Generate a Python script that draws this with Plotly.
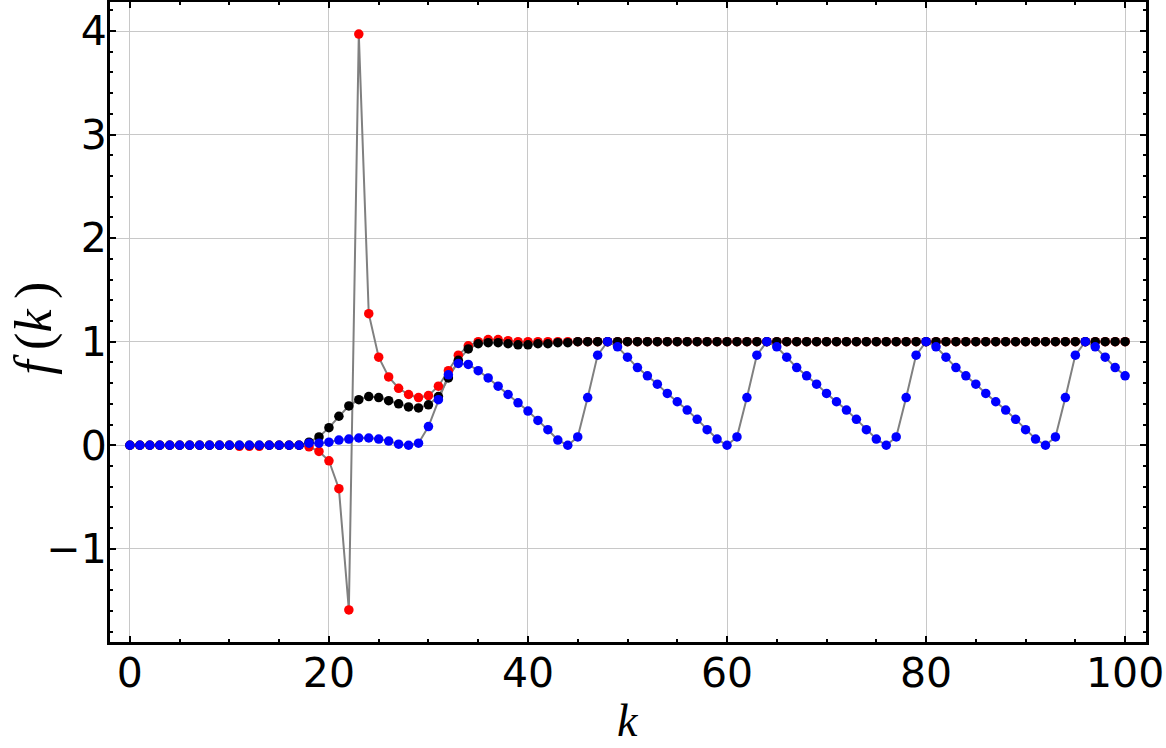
import plotly.graph_objects as go

k = list(range(0, 101))

red = ([0.0] * 11 + [-0.01, -0.01, -0.01] + [0.0] * 4 +
       [-0.015, -0.06, -0.15, -0.42, -1.59, 3.97, 1.27, 0.85, 0.66, 0.55,
        0.49, 0.46, 0.48, 0.57, 0.72, 0.87, 0.96, 1.0, 1.02, 1.02,
        1.01, 1.0] + [1.0] * 61)

black = ([0.0] * 18 +
         [0.03, 0.08, 0.17, 0.28, 0.38, 0.44, 0.47, 0.46, 0.43, 0.40,
          0.37, 0.36, 0.39, 0.47, 0.65, 0.82, 0.93, 0.98, 0.99, 0.99,
          0.98, 0.97, 0.97, 0.98, 0.98, 0.99, 0.99] + [1.0] * 56)

blue = ([0.0] * 18 +
        [0.02, 0.02, 0.03, 0.05, 0.06, 0.07, 0.07, 0.06, 0.04, 0.01,
         0.0, 0.02, 0.18, 0.44, 0.68, 0.79, 0.78, 0.72, 0.65, 0.57,
         0.49, 0.41, 0.33, 0.24, 0.15, 0.05,
         0.0, 0.08, 0.46, 0.87, 1.0, 0.95, 0.85, 0.75, 0.67, 0.59,
         0.50, 0.42, 0.34, 0.25, 0.15, 0.06,
         0.0, 0.08, 0.46, 0.87, 1.0, 0.95, 0.85, 0.75, 0.67, 0.59,
         0.50, 0.42, 0.34, 0.25, 0.15, 0.06,
         0.0, 0.08, 0.46, 0.87, 1.0, 0.95, 0.85, 0.75, 0.67, 0.59,
         0.50, 0.42, 0.34, 0.25, 0.15, 0.06,
         0.0, 0.08, 0.46, 0.87, 1.0, 0.95, 0.85, 0.75, 0.67])

series = [("red", red, "#ff0000"), ("black", black, "#000000"), ("blue", blue, "#0000ff")]

xticks = [0, 20, 40, 60, 80, 100]
yticks = [-1, 0, 1, 2, 3, 4]
yticklabels = ["\u22121", "0", "1", "2", "3", "4"]
x_title = "<i>k</i>"
y_title = "<i>f</i>\u2009(<i>k</i>\u2009)"

fig = go.Figure()
for name, vals, col in series:
    fig.add_trace(go.Scatter(x=k, y=vals, mode="lines",
                             line=dict(color="#808080", width=2),
                             showlegend=False, hoverinfo="skip"))
for name, vals, col in series:
    fig.add_trace(go.Scatter(x=k, y=vals, mode="markers", name=name,
                             marker=dict(color=col, size=9.5),
                             showlegend=False))

tickfont = dict(family="DejaVu Sans", size=41, color="black")
xtitlefont = dict(family="Liberation Serif", size=46, color="black")
ytitlefont = dict(family="Liberation Serif", size=52, color="black")

fig.update_layout(
    width=1166, height=748,
    margin=dict(l=110, r=20, t=2, b=106),
    paper_bgcolor="white", plot_bgcolor="white",
    xaxis=dict(range=[-2.0, 102.1], tickvals=xticks, ticktext=[str(v) for v in xticks],
               tickfont=tickfont, showgrid=True, gridcolor="#c8c8c8", gridwidth=1,
               zeroline=False, showline=True, linecolor="black", linewidth=3,
               mirror="allticks", ticks="inside", ticklen=6, tickwidth=2, tickcolor="black",
               minor=dict(dtick=5, tick0=0, ticks="inside", ticklen=3, tickwidth=2,
                          tickcolor="black", showgrid=False),
               ticklabelstandoff=-7, automargin=False),
    yaxis=dict(range=[-1.90, 4.28], tickvals=yticks, ticktext=yticklabels,
               tickfont=tickfont, showgrid=True, gridcolor="#c8c8c8", gridwidth=1,
               zeroline=False, showline=True, linecolor="black", linewidth=3,
               mirror="allticks", ticks="inside", ticklen=6, tickwidth=2, tickcolor="black",
               minor=dict(dtick=0.2, tick0=0, ticks="inside", ticklen=3, tickwidth=2,
                          tickcolor="black", showgrid=False),
               ticklabelstandoff=-8, automargin=False),
    annotations=[
        dict(text=x_title, xref="paper", yref="paper", x=0.5, y=-0.122,
             xanchor="center", yanchor="middle", showarrow=False, font=xtitlefont),
        dict(text=y_title, xref="paper", yref="paper", x=-0.073, y=0.49,
             xanchor="center", yanchor="middle", showarrow=False, font=ytitlefont,
             textangle=-90),
    ],
)

fig.write_html("out.html", config={"displayModeBar": False},
               post_script="document.body.style.margin='0';")
